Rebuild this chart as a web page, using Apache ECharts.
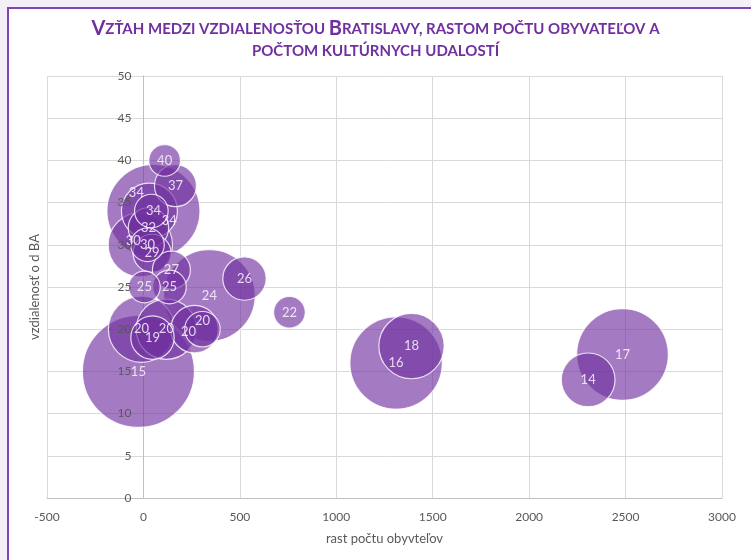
<!DOCTYPE html>
<html>
<head>
    <meta charset="utf-8">
    <title>Bubble</title>
    <script src="https://cdn.jsdelivr.net/npm/echarts@6/dist/echarts.min.js"></script>
    <style>
        body { margin: 0; background: #f5f0f8; }
        #frame { position: absolute; left: 7px; top: 7px; width: 800px; height: 600px;
                 background: #fff; border-left: 2px solid #7e45b3; border-top: 2px solid #7e45b3; }
        #main { position: absolute; left: 0; top: 0; width: 751px; height: 560px; }
    </style>
</head>
<body>
    <div id="frame"></div>
    <div id="main"></div>
    <script type="text/javascript">
        // data
        var growth   = [110, 166, 52, 31, 41, 26, -16, 21, 45, 145, 5, 135, 342, 524, 757, -10, 47, 119, 265, 306, -26, 1390, 1310, 2484, 2306]
        var distance = [40, 37, 34, 34, 34, 32, 30, 30, 29, 27, 25, 25, 24, 26, 22, 20, 19, 20, 20, 20, 15, 18, 16, 17, 14]
        var events   = [8, 14, 69, 25, 9, 13, 33, 9, 11.5, 11.5, 8, 9, 67, 15, 8, 35, 15, 29, 18, 10, 100, 34, 68, 67, 23]
        var labels   = ["40", "37", "34", "34", "34", "32", "30", "30", "29", "27", "25", "25", "24", "26", "22", "20", "19", "20", "20", "20", "15", "18", "16", "17", "14"]
        var xTicks = [-500, 0, 500, 1000, 1500, 2000, 2500, 3000]
        var yTicks = [0, 5, 10, 15, 20, 25, 30, 35, 40, 45, 50]

        // labels that were moved by hand in the original
        var labelNudge = { 3: [-13, -18], 4: [18, 10], 6: [-7, -4], 18: [-6, 3], 19: [0, -8] }

        var points = growth.map(function (g, i) {
            var p = { value: [g, distance[i], events[i]], name: labels[i] }
            if (labelNudge[i]) p.label = { offset: labelNudge[i] }
            return p
        })
        // bigger bubbles behind smaller ones
        points.sort(function (a, b) { return b.value[2] - a.value[2] })

        var myChart = echarts.init(document.getElementById("main"))
        var grey = "#595959"

        // the vertical axis crosses at x = 0, so shift it inwards from the grid edge
        var plotLeft = 47, plotRight = 722
        var zeroShift = (0 - xTicks[0]) / (xTicks[xTicks.length - 1] - xTicks[0]) * (plotRight - plotLeft)

        var yBase = {
            type: "value",
            min: yTicks[0],
            max: yTicks[yTicks.length - 1],
            interval: 5,
            position: "left",
            offset: -zeroShift,
            axisTick: { show: false }
        }

        var option = {
            animation: false,
            title: {
                text: "{a|V}{b|ZŤAH MEDZI VZDIALENOSŤOU }{a|B}{b|RATISLAVY, RASTOM POČTU OBYVATEĽOV A}\n{b|POČTOM KULTÚRNYCH UDALOSTÍ}",
                left: "center",
                top: 13,
                textStyle: {
                    rich: {
                        a: { fontFamily: "Lato", fontWeight: "bold", fontSize: 20, color: "#7030a0", lineHeight: 22 },
                        b: { fontFamily: "Lato", fontWeight: "bold", fontSize: 15, color: "#7030a0", lineHeight: 22 }
                    }
                }
            },
            grid: { left: plotLeft, right: 751 - plotRight, top: 76, bottom: 62, containLabel: false, outerBoundsMode: "none" },
            xAxis: {
                type: "value",
                min: xTicks[0],
                max: xTicks[xTicks.length - 1],
                interval: 500,
                name: "rast počtu obyvteľov",
                nameLocation: "middle",
                nameGap: 34,
                nameTextStyle: { fontFamily: "Lato", fontSize: 13, color: grey },
                axisLine: { onZero: false, lineStyle: { color: "#bfbfbf" } },
                axisTick: { show: false },
                axisLabel: { fontFamily: "Lato", fontSize: 12, color: grey, margin: 13, formatter: function (v) { return String(v) } },
                splitLine: { lineStyle: { color: "#d9d9d9" } }
            },
            yAxis: [
                Object.assign({}, yBase, {
                    name: "vzdialenosť o d BA",
                    nameLocation: "middle",
                    nameGap: 102,
                    nameTextStyle: { fontFamily: "Lato", fontSize: 13, color: grey },
                    axisLine: { show: true, onZero: false, lineStyle: { color: "#bfbfbf" } },
                    axisLabel: { show: false },
                    splitLine: { lineStyle: { color: "#d9d9d9" } }
                }),
                // tick labels only, drawn above the bubbles like in the original
                Object.assign({}, yBase, {
                    zlevel: 1,
                    axisLine: { show: false },
                    splitLine: { show: false },
                    axisLabel: { fontFamily: "Lato", fontSize: 12, color: grey, margin: 12 }
                })
            ],
            series: [
                {
                    type: "scatter",
                    data: points,
                    symbolSize: function (v) { return Math.sqrt(v[2]) * 11.2 },
                    itemStyle: { color: "rgba(112,48,160,0.8)", borderColor: "#ffffff", borderWidth: 1.2 },
                    label: {
                        show: true,
                        position: "inside",
                        formatter: function (p) { return p.name },
                        fontFamily: "Lato",
                        fontSize: 13,
                        color: "#ffffff"
                    }
                }
            ]
        }

        myChart.setOption(option)
    </script>
</body>
</html>
